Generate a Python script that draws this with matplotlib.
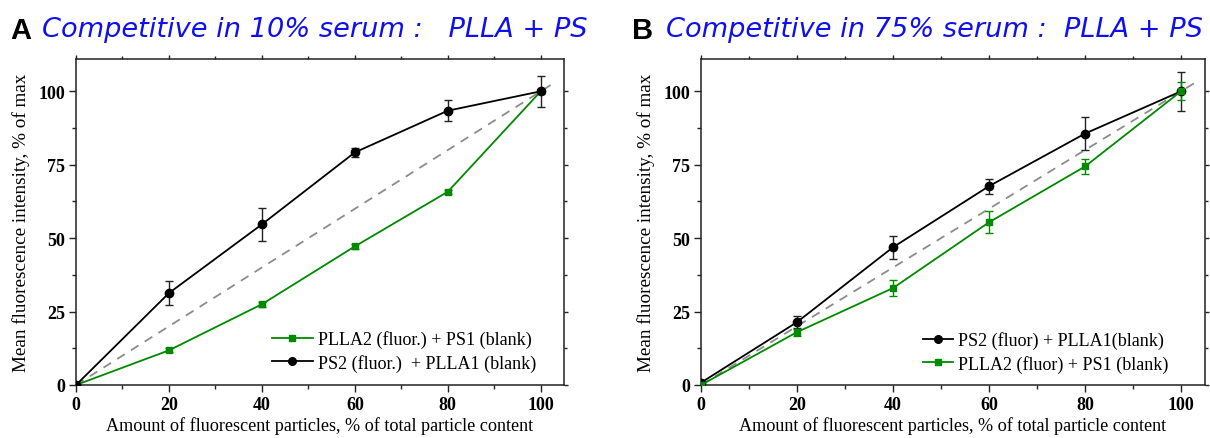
import matplotlib
matplotlib.use("Agg")
import matplotlib.pyplot as plt
from matplotlib.lines import Line2D
from matplotlib.ticker import MultipleLocator

# Fraction of fluorescent particles in the mixture (% of total)
x_vals = [0, 20, 40, 60, 80, 100]

# Panel A: competitive uptake in 10% serum
a_ps2_mean = [0, 31.3, 54.7, 79.2, 93.4, 100]
a_ps2_err = [0, 4.0, 5.5, 1.5, 3.6, 5.3]
a_plla2_mean = [0, 11.8, 27.5, 47.2, 65.8, 100]
a_plla2_err = [0, 0.7, 0.8, 0.9, 0.7, 0.8]

# Panel B: competitive uptake in 75% serum
b_ps2_mean = [0.8, 21.4, 46.9, 67.7, 85.6, 100]
b_ps2_err = [0, 2.0, 3.9, 2.6, 5.6, 6.6]
b_plla2_mean = [0, 18.0, 33.0, 55.4, 74.4, 100]
b_plla2_err = [0, 1.2, 2.8, 3.8, 2.6, 3.1]

# Reference diagonal (ideal proportional signal)
diag_x = [0, 103]
diag_y = [0, 103]

panel_letters = ["A", "B"]
panel_titles = ["Competitive in 10% serum :   PLLA + PS",
                "Competitive in 75% serum :  PLLA + PS"]
a_labels = ["PLLA2 (fluor.) + PS1 (blank)", "PS2 (fluor.)  + PLLA1 (blank)"]
b_labels = ["PS2 (fluor) + PLLA1(blank)", "PLLA2 (fluor) + PS1 (blank)"]
x_label = "Amount of fluorescent particles, % of total particle content"
y_label = "Mean fluorescence intensity, % of max"

GREEN = "#008a00"
BLACK = "#000000"
TITLE_BLUE = "#1010ee"

plt.rcParams["font.family"] = ["Liberation Serif", "DejaVu Serif"]

W, H = 1210, 439
fig = plt.figure(figsize=(W / 100, H / 100), dpi=100)


def px_axes(left, right, top, bottom):
    return fig.add_axes([left / W, 1 - bottom / H, (right - left) / W, (bottom - top) / H])


axA = px_axes(76, 564, 60, 386)
axB = px_axes(701, 1205, 60, 386)


def series(ax, y, err, color, marker, ms):
    ax.errorbar(x_vals, y, yerr=err, color=color, marker=marker, ms=ms,
                lw=1.3, elinewidth=1.0, capsize=3, capthick=1.0,
                ecolor=color if color != BLACK else "#222222", zorder=3)
    return Line2D([], [], color=color, marker=marker, ms=ms - 0.5, lw=1.3)


def style(ax):
    ax.plot(diag_x, diag_y, color="#8c8c8c", lw=1.3, ls=(0, (5, 4)), zorder=2)
    ax.set_xlim(0, 105)
    ax.set_ylim(0, 111)
    ax.xaxis.set_major_locator(MultipleLocator(20))
    ax.xaxis.set_minor_locator(MultipleLocator(10))
    ax.yaxis.set_major_locator(MultipleLocator(25))
    ax.yaxis.set_minor_locator(MultipleLocator(12.5))
    ax.tick_params(which="both", direction="out", width=1.0, color="#222222")
    ax.tick_params(which="major", length=5, labelsize=13, pad=3)
    ax.tick_params(which="minor", length=3)
    # Mirror short ticks on the top and right spines
    for twin_axis, side in ((ax.secondary_xaxis("top"), "x"), (ax.secondary_yaxis("right"), "y")):
        if side == "x":
            twin_axis.xaxis.set_major_locator(MultipleLocator(20))
            twin_axis.xaxis.set_minor_locator(MultipleLocator(10))
        else:
            twin_axis.yaxis.set_major_locator(MultipleLocator(25))
            twin_axis.yaxis.set_minor_locator(MultipleLocator(12.5))
        twin_axis.tick_params(which="both", direction="out", width=1.0, color="#222222",
                              labeltop=False, labelright=False)
        twin_axis.tick_params(which="major", length=3)
        twin_axis.tick_params(which="minor", length=2)
        for sp in twin_axis.spines.values():
            sp.set_visible(False)
    for lbl in ax.get_xticklabels() + ax.get_yticklabels():
        lbl.set_fontweight("bold")
    for sp in ax.spines.values():
        sp.set_linewidth(1.1)
        sp.set_color("#222222")
    ax.set_xlabel(x_label, fontsize=13.1, labelpad=2)
    ax.set_ylabel(y_label, fontsize=13.8, labelpad=6)


def legend_at(ax, handles, labels, x_px, y_px, handlelength):
    ax.legend(handles, labels, loc="center left",
              bbox_to_anchor=(x_px / W, 1 - y_px / H), bbox_transform=fig.transFigure,
              frameon=False, fontsize=13, handlelength=handlelength,
              handletextpad=0.3, labelspacing=0.3, borderaxespad=0, borderpad=0)


# Panel A
hA1 = series(axA, a_plla2_mean, a_plla2_err, GREEN, "s", 5)
hA2 = series(axA, a_ps2_mean, a_ps2_err, BLACK, "o", 6)
style(axA)
legend_at(axA, [hA1, hA2], a_labels, 272, 352, 2.25)

# Panel B
hB1 = series(axB, b_ps2_mean, b_ps2_err, BLACK, "o", 6)
hB2 = series(axB, b_plla2_mean, b_plla2_err, GREEN, "s", 5)
style(axB)
legend_at(axB, [hB1, hB2], b_labels, 923, 353, 1.65)

# Panel letters and titles
for (lx, tx), letter, title in zip([(10, 42), (632, 666)], panel_letters, panel_titles):
    fig.text(lx / W, 1 - 39 / H, letter, fontsize=21, fontweight="bold",
             family="Liberation Sans", ha="left", va="baseline")
    fig.text(tx / W, 1 - 37 / H, title, fontsize=19.6, style="italic",
             family="DejaVu Sans", color=TITLE_BLUE, ha="left", va="baseline")

fig.savefig("out.png", dpi=100)
